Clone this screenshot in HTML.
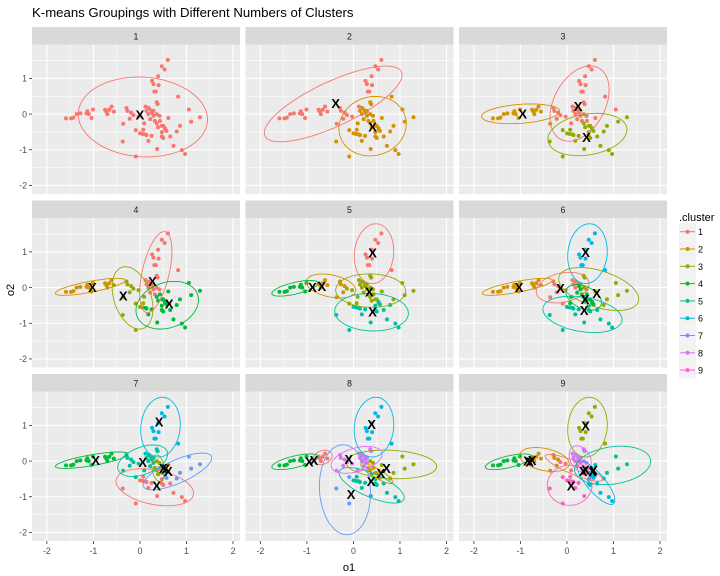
<!DOCTYPE html>
<html><head><meta charset="utf-8"><style>
body{margin:0;background:#fff;}
svg{display:block;font-family:"Liberation Sans",sans-serif;}
</style></head><body>
<svg id="chart" width="720" height="576" viewBox="0 0 720 576" xmlns="http://www.w3.org/2000/svg">
<defs id="defs"></defs>
<text x="32" y="17" font-size="13.2" fill="#000">K-means Groupings with Different Numbers of Clusters</text>
<text x="349" y="571" font-size="11" fill="#000" text-anchor="middle">o1</text>
<text x="14" y="290" font-size="11" fill="#000" text-anchor="middle" transform="rotate(-90 14 290)">o2</text>
<g id="panels"></g>
<g id="legend"></g>
</svg>
<script>
const pointsX = [-1.59,-1.48,-1.43,-1.36,-1.28,-1.15,-1.13,-1.10,-1.04,-1.01,-0.75,-0.72,-0.70,-0.66,-0.61,-0.56,-0.36,-0.37,-0.29,-0.27,-0.22,-0.19,-0.14,-0.09,-0.09,-0.03,0.07,0.09,0.12,0.19,0.24,0.26,0.29,0.06,0.14,0.18,0.22,0.25,0.26,0.29,0.31,0.34,0.36,0.38,0.39,0.40,0.42,0.36,0.37,0.39,0.43,0.47,0.47,0.53,0.60,0.47,0.50,0.54,0.57,0.61,0.65,0.72,0.82,0.79,0.86,0.90,0.97,1.05,1.10,1.29,0.36,0.29,0.32,0.50,0.54,0.47,0.14,0.18,0.00,0.12];
const pointsY = [-0.12,-0.12,-0.10,0.00,0.02,0.02,0.08,0.00,-0.11,0.13,0.12,0.07,0.00,0.12,0.21,0.07,-0.27,-0.77,0.17,0.09,-0.13,0.04,-0.03,-0.45,-1.19,-0.07,-0.44,-0.26,0.21,0.17,0.10,0.04,0.09,-0.56,-0.59,-0.75,-0.14,-0.61,0.93,0.84,0.63,0.63,0.33,0.28,1.06,0.81,-0.05,-0.26,-0.98,-0.37,-0.19,-0.33,1.34,1.25,1.52,-0.63,-0.67,-0.40,-0.47,-0.11,-0.63,-0.89,0.49,-0.49,-0.33,-1.01,-1.12,0.13,-0.21,-0.09,0.00,-0.05,-0.19,-0.33,-0.43,-0.51,0.09,0.00,-0.54,-0.57];
const centersK1 = [[0,-0.02]];
const centersK2 = [[-0.38,0.30],[0.41,-0.36]];
const centersK3 = [[0.24,0.21],[-0.95,0],[0.42,-0.65]];
const centersK4 = [[0.27,0.17],[-1.02,0],[-0.36,-0.24],[0.63,-0.46]];
const centersK5 = [[0.41,0.97],[-0.68,0.03],[0.34,-0.13],[-0.88,0],[0.41,-0.68]];
const centersK6 = [[-0.14,-0.03],[-1.03,0],[0.64,-0.17],[0.39,-0.34],[0.37,-0.64],[0.40,0.99]];
const centersK7 = [[0.36,-0.70],[0.55,-0.22],[0.50,-0.21],[-0.95,0.02],[0.06,-0.04],[0.41,1.10],[0.61,-0.29]];
const centersK8 = [[-0.85,0.02],[0.59,-0.35],[0.71,-0.21],[-0.95,-0.02],[0.38,-0.57],[0.39,1.02],[-0.05,-0.93],[-0.10,0.04]];
const centersK9 = [[0.35,-0.29],[-0.75,0.02],[0.40,0.99],[-0.85,0],[0.57,-0.26],[0.55,-0.30],[-0.80,-0.02],[0.40,-0.25],[0.09,-0.70]];
const panelLabels = ["1","2","3","4","5","6","7","8","9"];
const xTicks = [-2,-1,0,1,2];
const yTicks = [1,0,-1,-2];
const clusterLabels = ["1","2","3","4","5","6","7","8","9"];

const allCenters=[centersK1,centersK2,centersK3,centersK4,centersK5,centersK6,centersK7,centersK8,centersK9];
const colors=["#F8766D","#D39200","#93AA00","#00BA38","#00C19F","#00B9E3","#619CFF","#DB72FB","#FF61C3"];
const NS="http://www.w3.org/2000/svg";
const colLeft=[32,245.5,459], rowTop=[27,200.5,374], PW=208, SH=17.5, PH=149.5;
const XMIN=-2.32, XMAX=2.15, YMAX=1.95, YMIN=-2.24;
function mk(tag,attrs,parent){const e=document.createElementNS(NS,tag);for(const k in attrs)e.setAttribute(k,attrs[k]);parent.appendChild(e);return e;}
const F95=[0,199.5,19,9.55,6.94,5.79,5.14,4.74,4.46,4.26,4.10];
function fq(df){return df<=10?F95[df]:3+11/df;}
const root=document.getElementById('panels');
const defs=document.getElementById('defs');
for(let p=0;p<9;p++){
  const r=Math.floor(p/3), c=p%3;
  const L=colLeft[c], T=rowTop[r]+SH;
  const sx=v=>L+(v-XMIN)/(XMAX-XMIN)*PW;
  const sy=v=>T+(YMAX-v)/(YMAX-YMIN)*PH;
  const cp=mk('clipPath',{id:'clip'+p},defs);
  mk('rect',{x:L,y:T,width:PW,height:PH},cp);
  const g=mk('g',{},root);
  
  
  const strip=mk('rect',{x:L,y:rowTop[r],width:PW,height:SH,fill:'#D9D9D9'},g);
  
  
  const st=mk('text',{x:L+PW/2,y:rowTop[r]+12.3,'font-size':8.8,fill:'#1A1A1A','text-anchor':'middle'},g);
  st.textContent=panelLabels[p];
  
  
  const bg=mk('rect',{x:L,y:T,width:PW,height:PH,fill:'#EBEBEB'},g);
  
  
  for(let v=-2.5;v<=2.5;v+=0.5){
    const major=Math.abs(v-Math.round(v))<1e-6;
    if(v>XMIN&&v<XMAX){const l=mk('line',{x1:sx(v),x2:sx(v),y1:T,y2:T+PH,stroke:'#fff','stroke-width':major?1.1:0.55},g);
      
      }
    if(v>YMIN&&v<YMAX){const l=mk('line',{x1:L,x2:L+PW,y1:sy(v),y2:sy(v),stroke:'#fff','stroke-width':major?1.1:0.55},g);
      
      }
  }
  if(c===0){yTicks.forEach(t=>{
    const tk=mk('line',{x1:L-3,x2:L,y1:sy(t),y2:sy(t),stroke:'#333','stroke-width':0.8},g);
    
    
    const tl=mk('text',{x:L-5,y:sy(t)+3.2,'font-size':8.8,fill:'#4D4D4D','text-anchor':'end'},g);
    tl.textContent=String(t);
    
    });}
  if(r===2){xTicks.forEach(t=>{
    const tk=mk('line',{x1:sx(t),x2:sx(t),y1:T+PH,y2:T+PH+3,stroke:'#333','stroke-width':0.8},g);
    
    
    const tl=mk('text',{x:sx(t),y:T+PH+13,'font-size':8.8,fill:'#4D4D4D','text-anchor':'middle'},g);
    tl.textContent=String(t);
    
    });}
  const inner=mk('g',{'clip-path':'url(#clip'+p+')'},g);
  const cents=allCenters[p];
  const groups=cents.map(()=>[]);
  for(let i=0;i<pointsX.length;i++){
    let best=0,bd=1e9;
    cents.forEach((ce,j)=>{const d=(pointsX[i]-ce[0])**2+(pointsY[i]-ce[1])**2;if(d<bd){bd=d;best=j;}});
    groups[best].push(i);
  }
  groups.forEach((idx,j)=>{idx.forEach(i=>{
    const pt=mk('circle',{cx:sx(pointsX[i]),cy:sy(pointsY[i]),r:2,fill:colors[j]},inner);
    
    });});
  groups.forEach((idx,j)=>{
    const n=idx.length; if(n<3)return;
    let mx=0,my=0; idx.forEach(i=>{mx+=pointsX[i];my+=pointsY[i];}); mx/=n;my/=n;
    let a=0,b=0,d=0; idx.forEach(i=>{const dx=pointsX[i]-mx,dy=pointsY[i]-my;a+=dx*dx;b+=dx*dy;d+=dy*dy;});
    a/=(n-1);b/=(n-1);d/=(n-1);
    const tr=(a+d)/2, det=Math.sqrt(Math.max(0,((a-d)/2)**2+b*b));
    const l1=tr+det,l2=Math.max(tr-det,1e-5);
    const th=Math.abs(b)<1e-12?(a>=d?0:Math.PI/2):Math.atan2(l1-a,b);
    const s=0.85*Math.sqrt(2*Math.min(fq(n-1),8));
    let dstr='';
    for(let k=0;k<=60;k++){const t=k/60*2*Math.PI;
      const u=s*Math.sqrt(l1)*Math.cos(t), v=s*Math.sqrt(l2)*Math.sin(t);
      const x=mx+u*Math.cos(th)-v*Math.sin(th), y=my+u*Math.sin(th)+v*Math.cos(th);
      dstr+=(k?'L':'M')+sx(x).toFixed(1)+' '+sy(y).toFixed(1);}
    const el=mk('path',{d:dstr,fill:'none',stroke:colors[j],'stroke-width':0.9},inner);
    
    
  });
  cents.forEach((ce,j)=>{
    const x=mk('text',{x:sx(ce[0]),y:sy(ce[1])+4.5,'font-size':13,'font-weight':'bold',fill:'#000','text-anchor':'middle'},inner);
    x.textContent='X';
    
    
  });
}
const lg=document.getElementById('legend');
const lt=mk('text',{x:679,y:221,'font-size':11,fill:'#000'},lg);
lt.textContent='.cluster';


clusterLabels.forEach((lab,i)=>{
  const cy=231.7+i*17.3;
  const e=mk('g',{},lg);
  
  
  mk('rect',{x:679,y:cy-8.5,width:17,height:17,fill:'#F2F2F2'},e);
  mk('line',{x1:680,x2:695,y1:cy,y2:cy,stroke:colors[i],'stroke-width':1},e);
  mk('circle',{cx:687.5,cy:cy,r:2,fill:colors[i]},e);
  const t=mk('text',{x:698,y:cy+3.5,'font-size':9,fill:'#000'},e);
  t.textContent=lab;
});
</script>
</body></html>
